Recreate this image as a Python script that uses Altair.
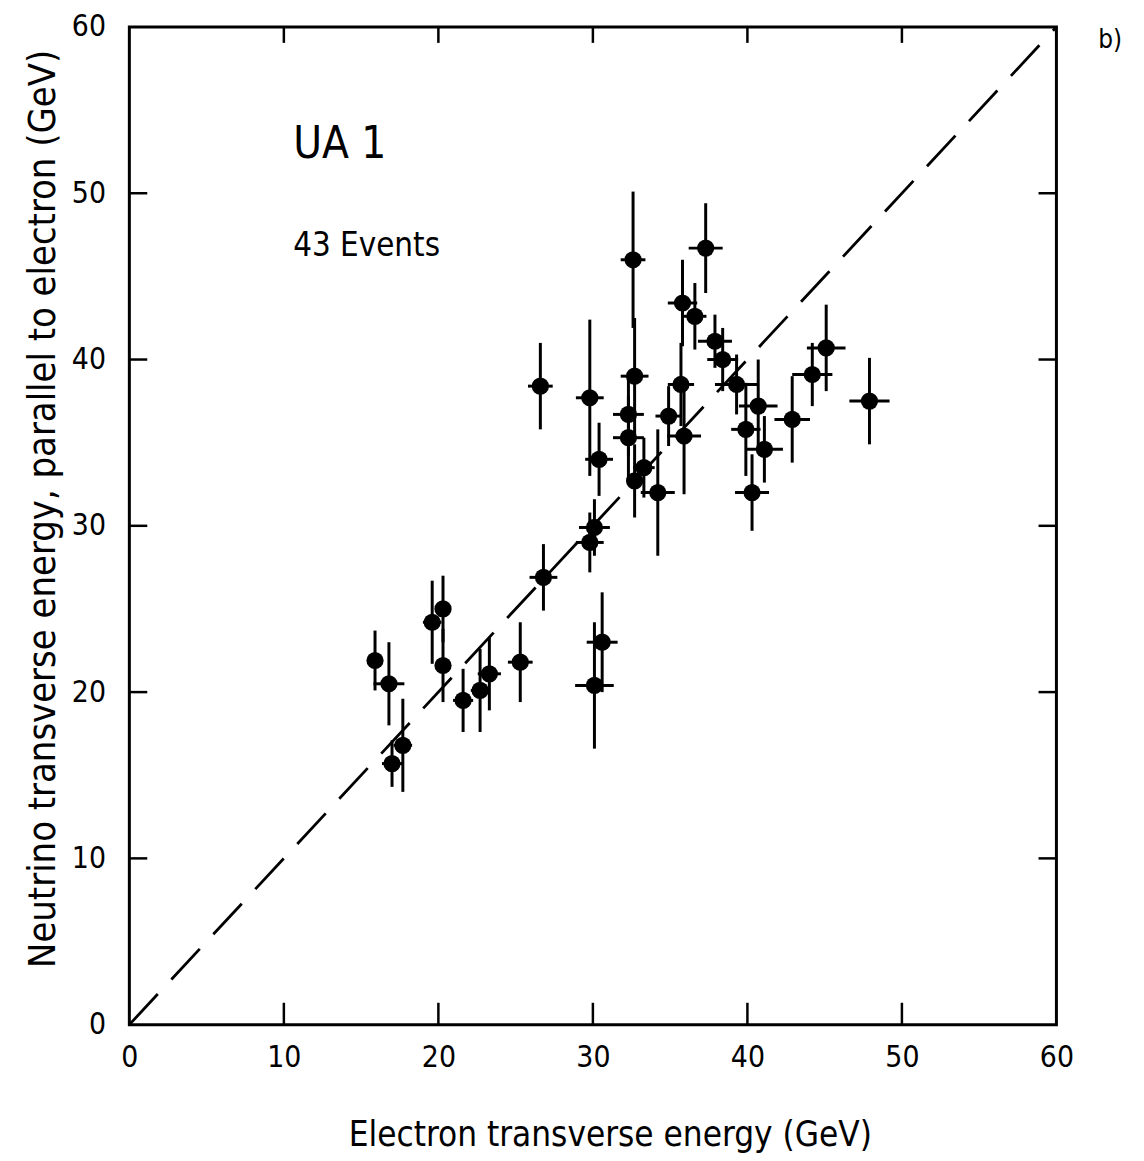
import altair as alt
import pandas as pd

# Electron transverse energy (GeV) and its half error
ele_et = [15.9, 16.8, 17.0, 17.7, 19.6, 20.3, 20.3, 21.6, 22.7, 23.3,
          25.3, 26.6, 26.8, 29.8, 29.8, 30.1, 30.1, 30.4, 30.6, 32.3,
          32.3, 32.6, 32.7, 32.7, 33.3, 34.2, 34.9, 35.8, 35.7, 35.9,
          36.6, 37.3, 37.9, 38.4, 39.3, 39.9, 40.3, 40.7, 41.1, 42.9,
          44.2, 45.1, 47.9]
ele_err = [0.5, 1.0, 0.65, 0.6, 0.6, 0.5, 0.5, 0.65, 0.6, 0.75,
           0.8, 0.8, 0.9, 0.9, 0.9, 1.0, 1.25, 0.9, 1.0, 1.0,
           1.0, 0.8, 0.9, 0.5, 0.7, 1.1, 0.85, 0.95, 0.85, 1.1,
           0.75, 1.1, 1.1, 1.0, 1.4, 0.95, 1.1, 1.25, 1.2, 1.15,
           1.3, 1.25, 1.3]
# Neutrino transverse energy parallel to electron (GeV) and its half error
nu_et = [21.9, 20.5, 15.7, 16.8, 24.2, 25.0, 21.6, 19.5, 20.1, 21.1,
         21.8, 38.4, 26.9, 37.7, 29.0, 29.9, 20.4, 34.0, 23.0, 35.3,
         36.7, 46.0, 39.0, 32.7, 33.5, 32.0, 36.6, 43.4, 38.5, 35.4,
         42.6, 46.7, 41.1, 40.0, 38.5, 35.8, 32.0, 37.2, 34.6, 36.4,
         39.1, 40.7, 37.5]
nu_err = [1.8, 2.5, 1.4, 2.8, 2.5, 2.0, 2.2, 1.9, 2.5, 2.2,
          2.4, 2.6, 2.0, 4.7, 1.8, 1.7, 3.8, 2.2, 3.0, 2.5,
          2.5, 4.1, 3.5, 2.2, 1.8, 3.8, 1.8, 2.6, 2.5, 3.5,
          2.0, 2.7, 1.6, 1.9, 1.8, 2.8, 2.3, 2.8, 2.0, 2.6,
          1.9, 2.6, 2.6]

tick_values = [0, 10, 20, 30, 40, 50, 60]
inner_ticks = [10, 20, 30, 40, 50]
diag = [0, 60]

W, H = 932, 1003
FONT = "DejaVu Sans Condensed, Liberation Sans Narrow, sans-serif"

df = pd.DataFrame({"x": ele_et, "xe": ele_err, "y": nu_et, "ye": nu_err})
df["x0"] = df["x"] - df["xe"]
df["x1"] = df["x"] + df["xe"]
df["y0"] = df["y"] - df["ye"]
df["y1"] = df["y"] + df["ye"]

xs = alt.Scale(domain=[0, 60], nice=False, zero=False)
ys = alt.Scale(domain=[0, 60], nice=False, zero=False)

xaxis = alt.Axis(values=tick_values, title="Electron transverse energy (GeV)",
                 grid=False, ticks=False, domain=False, labelFontSize=30,
                 labelPadding=18, labelFont=FONT, titleFont=FONT, titleFontSize=35,
                 titleFontWeight="normal", titleX=483, titleY=110,
                 titleBaseline="middle", labelColor="black", titleColor="black",
                 labelFlush=False)
yaxis = alt.Axis(values=tick_values,
                 title="Neutrino transverse energy, parallel to electron (GeV)",
                 grid=False, ticks=False, domain=False, labelFontSize=30,
                 labelPadding=24, labelFont=FONT, titleFont=FONT, titleFontSize=38,
                 titleFontWeight="normal", titleX=-86, titleY=484,
                 titleBaseline="middle", titleAngle=-90, labelColor="black",
                 titleColor="black", labelFlush=False)

base = alt.Chart(df)

xbars = base.mark_rule(color="black", strokeWidth=3).encode(
    x=alt.X("x0:Q", scale=xs, axis=xaxis), x2="x1:Q",
    y=alt.Y("y:Q", scale=ys, axis=yaxis))
ybars = base.mark_rule(color="black", strokeWidth=3).encode(
    x=alt.X("x:Q", scale=xs), y=alt.Y("y0:Q", scale=ys), y2="y1:Q")
points = base.mark_circle(color="black", opacity=1, size=300).encode(
    x=alt.X("x:Q", scale=xs), y=alt.Y("y:Q", scale=ys))

line = alt.Chart(pd.DataFrame({"v": diag})).mark_line(
    color="black", strokeWidth=2.8, strokeDash=[42, 20]).encode(
    x=alt.X("v:Q", scale=xs), y=alt.Y("v:Q", scale=ys))

tdf = pd.DataFrame({"t": inner_ticks})
tb = alt.Chart(tdf).mark_rule(color="black", strokeWidth=2.5).encode(
    x=alt.X("t:Q", scale=xs), y=alt.value(H), y2=alt.value(H - 22))
tt = alt.Chart(tdf).mark_rule(color="black", strokeWidth=2.5).encode(
    x=alt.X("t:Q", scale=xs), y=alt.value(0), y2=alt.value(16))
tl = alt.Chart(tdf).mark_rule(color="black", strokeWidth=2.5).encode(
    y=alt.Y("t:Q", scale=ys), x=alt.value(0), x2=alt.value(18))
tr = alt.Chart(tdf).mark_rule(color="black", strokeWidth=2.5).encode(
    y=alt.Y("t:Q", scale=ys), x=alt.value(W), x2=alt.value(W - 18))

labels = pd.DataFrame({
    "x": [10.6, 10.6, 62.7],
    "y": [52.9, 46.8, 59.2],
    "txt": ["UA 1", "43 Events", "b)"],
    "fs": [44, 33, 26],
})
txt = alt.Chart(labels).mark_text(align="left", baseline="middle", font=FONT,
                                  color="black").encode(
    x=alt.X("x:Q", scale=xs), y=alt.Y("y:Q", scale=ys), text="txt:N",
    size=alt.Size("fs:Q", scale=None, legend=None))

chart = alt.layer(line, xbars, ybars, points, tb, tt, tl, tr, txt).properties(
    width=W, height=H,
    autosize=alt.AutoSizeParams(type="none"),
    padding={"left": 122, "top": 16, "right": 80, "bottom": 135},
    background="white",
).configure_view(stroke="black", strokeWidth=3)

chart.save("out.html", embed_options={"renderer": "svg", "actions": False})
